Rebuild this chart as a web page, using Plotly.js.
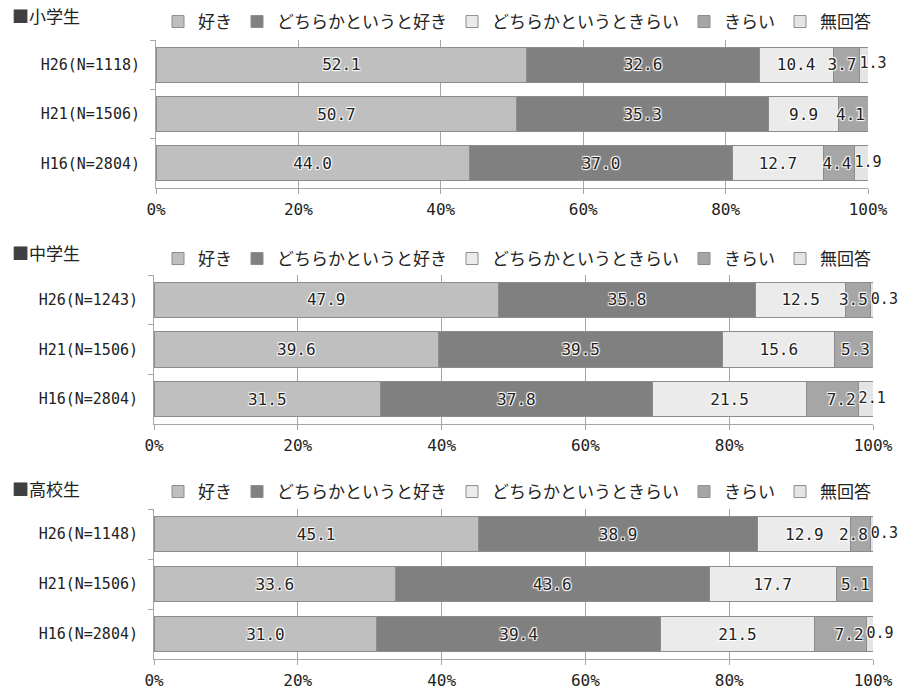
<!DOCTYPE html>
<html><head><meta charset="utf-8">
<script src="https://cdn.plot.ly/plotly-3.0.1.min.js"></script>
<style>body{margin:0;background:#fff}#chart{width:900px;height:692px}</style>
</head><body><div id="chart"></div>
<script>
// ---- data ----
const seriesNames = ['好き', 'どちらかというと好き', 'どちらかというときらい', 'きらい', '無回答'];
const panelTitles = ['小学生', '中学生', '高校生'];

const yLabelsElem = ['H26(N=1118)', 'H21(N=1506)', 'H16(N=2804)'];
const yLabelsJunior = ['H26(N=1243)', 'H21(N=1506)', 'H16(N=2804)'];
const yLabelsHigh = ['H26(N=1148)', 'H21(N=1506)', 'H16(N=2804)'];

// 小学生
const elemSuki = [52.1, 50.7, 44.0];
const elemDochiraSuki = [32.6, 35.3, 37.0];
const elemDochiraKirai = [10.4, 9.9, 12.7];
const elemKirai = [3.7, 4.1, 4.4];
const elemMukaitou = [1.3, null, 1.9];

// 中学生
const juniorSuki = [47.9, 39.6, 31.5];
const juniorDochiraSuki = [35.8, 39.5, 37.8];
const juniorDochiraKirai = [12.5, 15.6, 21.5];
const juniorKirai = [3.5, 5.3, 7.2];
const juniorMukaitou = [0.3, null, 2.1];

// 高校生
const highSuki = [45.1, 33.6, 31.0];
const highDochiraSuki = [38.9, 43.6, 39.4];
const highDochiraKirai = [12.9, 17.7, 21.5];
const highKirai = [2.8, 5.1, 7.2];
const highMukaitou = [0.3, null, 0.9];

// ---- styling ----
const colors = ['#bfbfbf', '#808080', '#ebebeb', '#a6a6a6', '#e4e4e4'];
const lineCol = '#8c8c8c';
const axisCol = '#a6a6a6';
const monoFont = '"DejaVu Sans Mono", "Noto Sans CJK JP", monospace';
const jpFont = '"Noto Sans CJK JP", sans-serif';
const glow = '1px 1px 1px #fff, -1px -1px 1px #fff, 1px -1px 1px #fff, -1px 1px 1px #fff';
const anchors = ['middle', 'middle', 'middle', 'end', 'middle'];

const panels = [
  {labels: yLabelsElem, series: [elemSuki, elemDochiraSuki, elemDochiraKirai, elemKirai, elemMukaitou]},
  {labels: yLabelsJunior, series: [juniorSuki, juniorDochiraSuki, juniorDochiraKirai, juniorKirai, juniorMukaitou]},
  {labels: yLabelsHigh, series: [highSuki, highDochiraSuki, highDochiraKirai, highKirai, highMukaitou]}
];

const xDomains = [[156/900, 868/900], [154/900, 873/900], [154/900, 873/900]];
const yDomains = [[1-188/692, 1-40/692], [1-424/692, 1-275/692], [1-659/692, 1-509/692]];
const legendY = [1-22/692, 1-259/692, 1-492/692];
const titleY = [1-16/692, 1-253/692, 1-488/692];

const traces = [];
const layout = {
  width: 900, height: 692,
  margin: {l: 0, r: 0, t: 0, b: 0},
  paper_bgcolor: '#fff', plot_bgcolor: '#fff',
  barmode: 'stack', bargap: 0.29,
  uniformtext: {mode: 'show', minsize: 16},
  showlegend: true,
  annotations: [],
  font: {family: jpFont, color: '#222'}
};

panels.forEach((p, i) => {
  const n = i === 0 ? '' : String(i + 1);
  const xa = 'x' + n, ya = 'y' + n, lg = 'legend' + n;
  p.series.forEach((vals, s) => {
    const last = s === p.series.length - 1;
    traces.push({
      type: 'bar', orientation: 'h',
      x: vals, y: p.labels,
      xaxis: xa, yaxis: ya, legend: lg,
      name: seriesNames[s],
      marker: {color: colors[s], line: {color: lineCol, width: 1}},
      texttemplate: '%{x:.1f}',
      textposition: last ? 'none' : 'inside',
      insidetextanchor: anchors[s],
      textangle: 0,
      constraintext: 'none',
      cliponaxis: false,
      textfont: {family: monoFont, size: 16, color: '#222', shadow: glow},
      hoverinfo: 'skip'
    });
  });
  // labels of the last (無回答) segment start at the segment's left edge
  const lastVals = p.series[p.series.length - 1];
  const starts = lastVals.map((v, k) => v == null ? null :
      p.series.slice(0, -1).reduce((acc, arr) => acc + arr[k], 0));
  traces.push({
    type: 'scatter', mode: 'text',
    x: starts, y: p.labels, xaxis: xa, yaxis: ya,
    text: lastVals.map(v => v == null ? '' : v.toFixed(1)),
    textposition: 'middle right',
    textfont: {family: monoFont, size: 15, color: '#222', shadow: glow},
    cliponaxis: false, showlegend: false, hoverinfo: 'skip'
  });
  layout['xaxis' + n] = {
    domain: xDomains[i], anchor: ya, range: [0, 100], dtick: 20, ticksuffix: '%',
    showgrid: true, gridcolor: axisCol, gridwidth: 1, zeroline: false,
    showline: true, linecolor: axisCol, linewidth: 1,
    ticks: 'outside', ticklen: 5, tickcolor: axisCol, ticklabelstandoff: 2,
    tickfont: {family: monoFont, size: 16, color: '#222'}, fixedrange: true
  };
  layout['yaxis' + n] = {
    domain: yDomains[i], anchor: xa, type: 'category', autorange: 'reversed',
    showline: true, linecolor: axisCol, linewidth: 1, showgrid: false, zeroline: false,
    ticks: 'outside', tickson: 'boundaries', ticklen: 5, tickcolor: axisCol,
    ticklabelstandoff: 12,
    tickfont: {family: monoFont, size: 15, color: '#222'}, fixedrange: true
  };
  layout[lg] = {
    orientation: 'h', x: 158/900, xanchor: 'left', y: legendY[i], yanchor: 'middle',
    font: {family: jpFont, size: 17, color: '#222'}, bgcolor: 'rgba(0,0,0,0)',
    traceorder: 'normal', itemclick: false, itemdoubleclick: false
  };
  layout.annotations.push({
    xref: 'paper', yref: 'paper', x: 10/900, y: titleY[i], xanchor: 'left', yanchor: 'middle',
    showarrow: false, text: '<span style="color:#404040">■</span>' + panelTitles[i],
    font: {family: jpFont, size: 17, color: '#222'}
  });
});

Plotly.newPlot('chart', traces, layout, {staticPlot: true, displayModeBar: false});
</script>
</body></html>
